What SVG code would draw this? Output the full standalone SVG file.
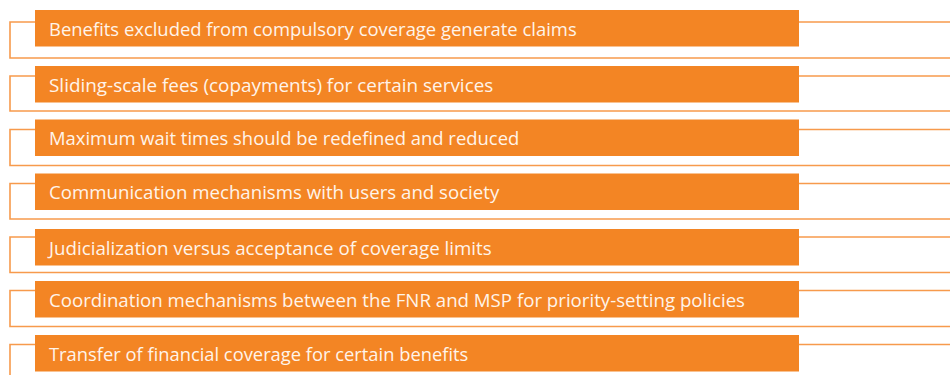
<svg xmlns="http://www.w3.org/2000/svg" width="950" height="375" viewBox="0 0 950 375">
<style>
.bar{fill:#F38524}
.ol{fill:none;stroke:#F79A4C;stroke-width:1.6}
.t{font-family:"Open Sans","Liberation Sans",sans-serif;font-size:18.5px;fill:#FFF4EA}
</style>
<rect width="950" height="375" fill="#fff"/>
<g id="connectors">
<path class="ol" d="M960 22H10V58H960"/>
<path class="ol" d="M960 76H10V111H960"/>
<path class="ol" d="M960 129.5H10V165.5H960"/>
<path class="ol" d="M960 183.5H10V219H960"/>
<path class="ol" d="M960 237H10V272.5H960"/>
<path class="ol" d="M960 290.5H10V326.5H960"/>
<path class="ol" d="M960 344.5H10V380"/>
</g>
<g id="n1"><rect class="bar" x="35" y="10" width="764" height="36.5"/><text class="t" x="49" y="36" textLength="527.7" lengthAdjust="spacingAndGlyphs">Benefits excluded from compulsory coverage generate claims</text></g>
<g id="n2"><rect class="bar" x="35" y="66" width="764" height="36.5"/><text class="t" x="49" y="91.5" textLength="444.3" lengthAdjust="spacingAndGlyphs">Sliding-scale fees (copayments) for certain services</text></g>
<g id="n3"><rect class="bar" x="35" y="119.5" width="764" height="36.5"/><text class="t" x="49" y="145" textLength="470.3" lengthAdjust="spacingAndGlyphs">Maximum wait times should be redefined and reduced</text></g>
<g id="n4"><rect class="bar" x="35" y="173.5" width="764" height="36.5"/><text class="t" x="49" y="199" textLength="450.3" lengthAdjust="spacingAndGlyphs">Communication mechanisms with users and society</text></g>
<g id="n5"><rect class="bar" x="35" y="229" width="764" height="36.5"/><text class="t" x="49" y="254.5" textLength="442.7" lengthAdjust="spacingAndGlyphs">Judicialization versus acceptance of coverage limits</text></g>
<g id="n6"><rect class="bar" x="35" y="281" width="764" height="36.5"/><text class="t" x="49" y="306.5" textLength="696" lengthAdjust="spacingAndGlyphs">Coordination mechanisms between the FNR and MSP for priority-setting policies</text></g>
<g id="n7"><rect class="bar" x="35" y="335" width="764" height="36.5"/><text class="t" x="49" y="360.5" textLength="419.3" lengthAdjust="spacingAndGlyphs">Transfer of financial coverage for certain benefits</text></g>
</svg>
